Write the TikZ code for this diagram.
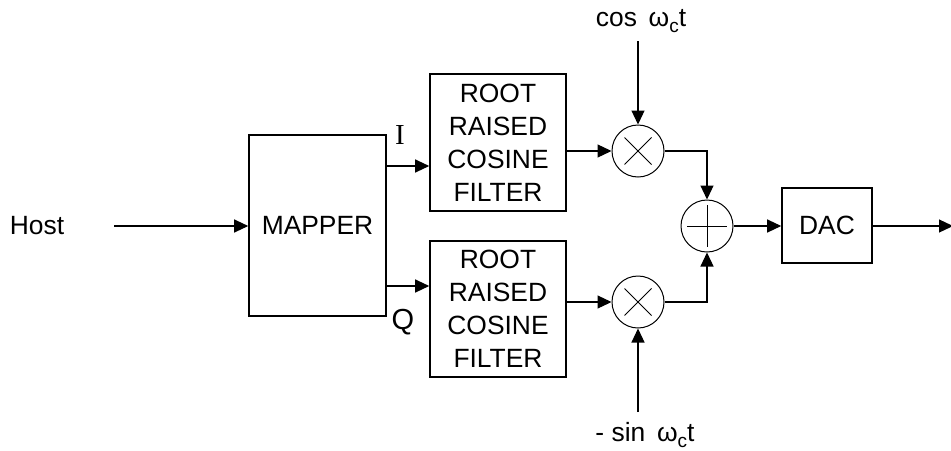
\documentclass[tikz,border=0pt]{standalone}
\usepackage{fontspec}
\setmainfont{Liberation Sans}
\newfontfamily\serifI{Liberation Serif}
\usetikzlibrary{arrows.meta,calc}
\newcommand{\csub}[1]{\raisebox{-0.45ex}{\fontsize{9.5}{10}\selectfont #1}}
\begin{document}
\begin{tikzpicture}[x=0.5pt,y=-0.5pt,
  blk/.style={draw,line width=0.8pt,inner sep=0pt,font=\fontsize{13.2}{16.5}\selectfont,align=center},
  opc/.style={draw,circle,line width=0.5pt,minimum size=26pt,inner sep=0pt},
  lbl/.style={font=\fontsize{13.2}{15}\selectfont,inner sep=0pt},
  arr/.style={line width=0.6pt,-{Triangle[length=7pt,width=6.5pt]}},
  ln/.style={line width=0.6pt}]
\useasboundingbox (0,0) rectangle (951,450);
\node[lbl] (host) at (37,226) {Host};
\node[blk,minimum width=68.5pt,minimum height=90.5pt] (mapper) at (317.5,225.5) {MAPPER};
\node[blk,minimum width=68pt,minimum height=68.5pt] (f1) at (498,142.5) {ROOT\\RAISED\\COSINE\\FILTER};
\node[blk,minimum width=68pt,minimum height=68pt] (f2) at (498,309) {ROOT\\RAISED\\COSINE\\FILTER};
\node[opc] (m1) at (638,151) {};
\node[opc] (m2) at (638,302) {};
\node[opc] (add) at (707,226) {};
\node[blk,minimum width=45pt,minimum height=37.5pt] (dac) at (827,225.5) {DAC};
\node[lbl] (cos) at (641,21) {cos \,ω\csub{c}t};
\node[lbl] (sin) at (645,435) {- sin \,ω\csub{c}t};
\node[inner sep=0pt,font=\serifI\fontsize{14.5}{16}\selectfont] (ilab) at (400,135) {I};
\node[lbl,font=\fontsize{14.5}{16}\selectfont] (qlab) at (403,322) {Q};
% symbols
\draw[line width=0.5pt] ($(m1)+(-13.5,-13.5)$) -- ($(m1)+(13.5,13.5)$) ($(m1)+(-13.5,13.5)$) -- ($(m1)+(13.5,-13.5)$);
\draw[line width=0.5pt] ($(m2)+(-13.5,-13.5)$) -- ($(m2)+(13.5,13.5)$) ($(m2)+(-13.5,13.5)$) -- ($(m2)+(13.5,-13.5)$);
\draw[line width=0.5pt] ($(add)+(-20,0)$) -- ($(add)+(20,0)$) ($(add)+(0,-21)$) -- ($(add)+(0,21)$);
% coordinates
\coordinate (hs) at (114,226);
\coordinate (iy) at (0,166);
\coordinate (qy) at (0,286);
\coordinate (cs) at (638,41);
\coordinate (ss) at (638,412);
\coordinate (out) at (953,226);
% connectors
\draw[arr] (hs) -- (mapper.west |- hs);
\draw[arr] (mapper.east |- iy) -- (f1.west |- iy);
\draw[arr] (mapper.east |- qy) -- (f2.west |- qy);
\draw[arr] (f1.east |- m1) -- (m1.west);
\draw[arr] (f2.east |- m2) -- (m2.west);
\draw[arr] (cs) -- (m1.north);
\draw[arr] (ss) -- (m2.south);
\draw[arr] (m1.east) -| (add.north);
\draw[arr] (m2.east) -| (add.south);
\draw[arr] (add.east) -- (dac.west |- add);
\draw[arr] (dac.east |- out) -- (out);
\end{tikzpicture}
\end{document}
